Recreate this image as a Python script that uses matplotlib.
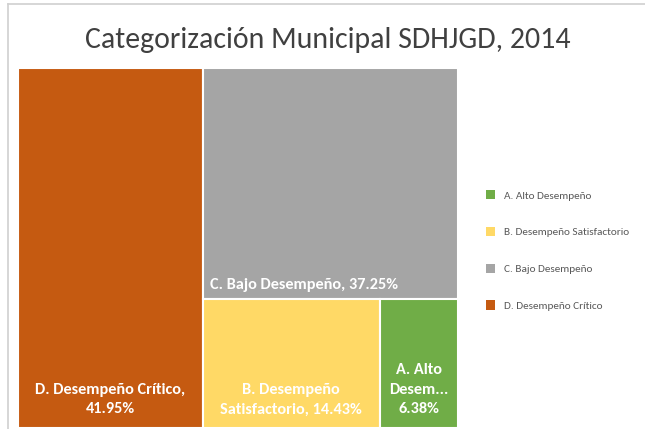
import matplotlib
matplotlib.use('Agg')
import matplotlib.pyplot as plt
from matplotlib.patches import Rectangle, Patch
from matplotlib.lines import Line2D

# data
categories = ['A. Alto Desempeño', 'B. Desempeño Satisfactorio',
              'C. Bajo Desempeño', 'D. Desempeño Crítico']
values = [6.38, 14.43, 37.25, 41.95]
colors = ['#70AD47', '#FFD966', '#A5A5A5', '#C55A11']
box_labels = ['A. Alto\nDesem...\n6.38%',
              'B. Desempeño\nSatisfactorio, 14.43%',
              'C. Bajo Desempeño, 37.25%',
              'D. Desempeño Crítico,\n41.95%']
title = 'Categorización Municipal SDHJGD, 2014'

plt.rcParams['font.family'] = ['Carlito', 'DejaVu Sans']

fig = plt.figure(figsize=(6.45, 4.29), dpi=100)
fig.patch.set_facecolor('white')

# frame around the chart area
fig.add_artist(Line2D([8/645, 1], [1 - 4/429, 1 - 4/429], color='#d0d0d0', lw=1.2))
fig.add_artist(Line2D([8/645, 8/645], [0, 1 - 4/429], color='#d0d0d0', lw=1.2))

fig.text(0.508, 1 - 40/429, title, ha='center', va='center',
         fontsize=21.5, color='#404040')

ax = fig.add_axes([18/645, 1/429, 440/645, 360/429])
ax.set_xlim(0, 100)
ax.set_ylim(0, 100)
ax.axis('off')

total = sum(values)
a, b, c, d = values
# D takes the full height on the left
wd = d / total * 100
# C on top of the remaining column, B and A share the bottom
rest = a + b + c
hc = c / rest * 100
wb = b / (a + b) * (100 - wd)
rects = {
    3: (0, 0, wd, 100),
    2: (wd, 100 - hc, 100 - wd, hc),
    1: (wd, 0, wb, 100 - hc),
    0: (wd + wb, 0, 100 - wd - wb, 100 - hc),
}
for i, (x, y, w, h) in rects.items():
    ax.add_patch(Rectangle((x, y), w, h, facecolor=colors[i],
                           edgecolor='white', lw=1.5))

txt = dict(color='white', fontsize=11.7, fontweight='bold', linespacing=1.5)
x, y, w, h = rects[3]
ax.text(x + w / 2, y + 3.2, box_labels[3], ha='center', va='bottom', **txt)
x, y, w, h = rects[2]
ax.text(x + 1.8, y + 2, box_labels[2], ha='left', va='bottom', **txt)
x, y, w, h = rects[1]
ax.text(x + w / 2, y + 3.2, box_labels[1], ha='center', va='bottom', **txt)
x, y, w, h = rects[0]
ax.text(x + w / 2, y + 3.2, box_labels[0], ha='center', va='bottom', **txt)

handles = [Patch(facecolor=col, edgecolor='none') for col in colors]
fig.legend(handles, categories, loc='upper left',
           bbox_to_anchor=(476/645, 1 - 180/429), frameon=False,
           fontsize=8.1, labelcolor='#595959', handlelength=0.8,
           handleheight=0.9, handletextpad=0.8, labelspacing=2.33)

fig.savefig('out.png', dpi=100)
